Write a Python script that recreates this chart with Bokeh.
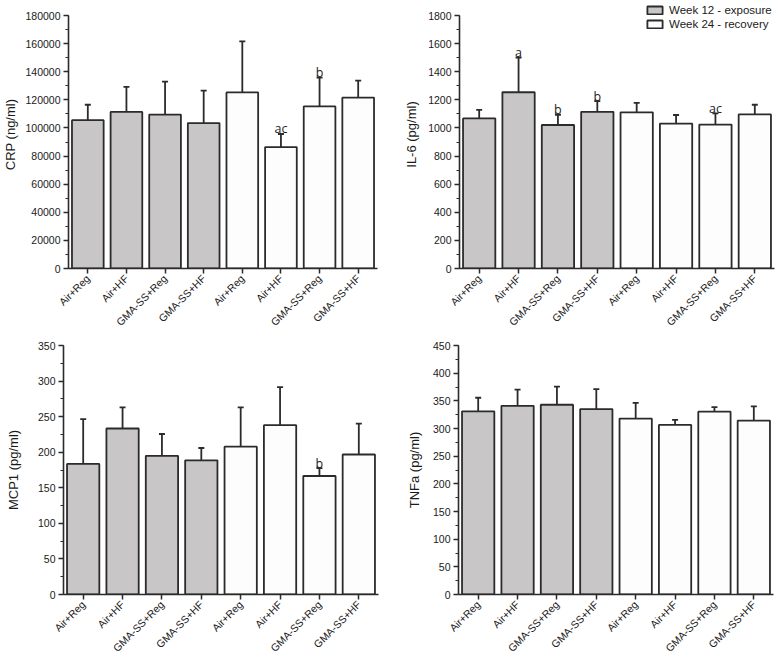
import math
from bokeh.plotting import figure
from bokeh.layouts import row, column
from bokeh.models import (ColumnDataSource, Range1d, FixedTicker, SingleIntervalTicker,
                          PrintfTickFormatter, Whisker, TeeHead, Legend, LegendItem)
from bokeh.core.properties import value
from bokeh.embed import file_html
from bokeh.resources import INLINE

# ---------------- data ----------------
groups = ["Air+Reg", "Air+HF", "GMA-SS+Reg", "GMA-SS+HF",
          "Air+Reg", "Air+HF", "GMA-SS+Reg", "GMA-SS+HF"]
periods = ["Week 12 - exposure"] * 4 + ["Week 24 - recovery"] * 4

crp_mean = [105500, 111400, 109500, 103500, 125300, 86400, 115300, 121600]
crp_sd = [11000, 17800, 23400, 23100, 36300, 9300, 20500, 12000]
crp_sig = ["", "", "", "", "", "ac", "b", ""]

il6_mean = [1068, 1254, 1021, 1115, 1111, 1031, 1024, 1096]
il6_sd = [61, 247, 73, 76, 68, 61, 80, 69]
il6_sig = ["", "a", "b", "b", "", "", "ac", ""]

mcp1_mean = [183.5, 233.3, 194.9, 188.6, 207.8, 238.0, 166.6, 196.8]
mcp1_sd = [63.0, 29.7, 30.7, 17.3, 55.2, 53.5, 11.0, 43.4]
mcp1_sig = ["", "", "", "", "", "", "b", ""]

tnf_mean = [331.0, 341.0, 342.9, 335.1, 317.9, 306.5, 330.4, 314.3]
tnf_sd = [24.6, 29.4, 32.8, 35.9, 28.5, 9.0, 8.3, 25.6]
tnf_sig = ["", "", "", "", "", "", "", ""]

# ---------------- style ----------------
FONT = "Liberation Sans"
GRAY = "#c8c6c6"
WHITE = "#fdfdfd"
INK = "#2b2b2b"

TOP_BT = 15      # gap between page top and the top tick of the top row
FRAME_H1 = 253   # height of the top-row axes (0 .. max)
BB = 68          # space below frames for rotated labels
H1 = TOP_BT + FRAME_H1 + BB
H2 = 662 - H1
BT2 = 9
TOP_SCALE = (TOP_BT + FRAME_H1) / FRAME_H1   # top-row frames reach the page top


def panel(mean, sd, sig, ymax, step, ylabel, label_standoff,
          width, height, bl, br, bt, bb, yend=None):
    xs = list(range(len(groups)))
    src = ColumnDataSource(dict(
        x=xs, mean=mean,
        upper=[m + s for m, s in zip(mean, sd)],
        color=[GRAY if p.startswith("Week 12") else WHITE for p in periods],
        sig=sig))
    p = figure(width=width, height=height,
               x_range=Range1d(-0.5, 7.5),
               y_range=Range1d(0, yend if yend is not None else ymax),
               output_backend="svg", toolbar_location=None,
               min_border_left=bl, min_border_right=br,
               min_border_top=bt, min_border_bottom=bb)
    p.outline_line_color = None
    p.xgrid.visible = False
    p.ygrid.visible = False
    p.background_fill_color = "white"

    r = p.vbar(x="x", top="mean", bottom=0, width=0.82, source=src,
               fill_color="color", line_color=INK, line_width=1.8)
    w = Whisker(base="x", upper="upper", lower="mean", source=src,
                dimension="height", line_color=INK, line_width=1.8,
                upper_head=TeeHead(size=6, line_color=INK, line_width=1.8),
                lower_head=None)
    p.add_layout(w)
    p.text(x="x", y="upper", text="sig", source=src, text_align="center",
           text_baseline="alphabetic", y_offset=-5,
           text_font=value("Open Sans"), text_font_size="12.5px",
           text_color="#222222")

    for ax in (p.xaxis[0], p.yaxis[0]):
        ax.axis_line_color = INK
        ax.axis_line_width = 1.6
        ax.major_tick_line_color = INK
        ax.major_tick_line_width = 1.5
        ax.minor_tick_line_color = INK
        ax.minor_tick_line_width = 1.2
        ax.major_tick_in = 0
        ax.major_tick_out = 5
        ax.minor_tick_in = 0
        ax.minor_tick_out = 3
        ax.major_label_text_font = FONT
        ax.major_label_text_font_size = "10.5px"
        ax.major_label_text_color = "#1a1a1a"

    xa = p.xaxis[0]
    xa.ticker = FixedTicker(ticks=xs, minor_ticks=[])
    xa.major_label_overrides = {i: g for i, g in enumerate(groups)}
    xa.major_label_orientation = math.pi / 4
    xa.major_label_standoff = 3

    ya = p.yaxis[0]
    ya.ticker = SingleIntervalTicker(interval=step, num_minor_ticks=2)
    ya.formatter = PrintfTickFormatter(format="%d")
    ya.bounds = (0, ymax)
    ya.major_label_standoff = 3
    ya.axis_label = ylabel
    ya.axis_label_text_font = FONT
    ya.axis_label_text_font_style = "normal"
    ya.axis_label_text_font_size = "13px"
    ya.axis_label_text_color = "#1a1a1a"
    ya.axis_label_standoff = label_standoff
    return p, r


p1, _ = panel(crp_mean, crp_sd, crp_sig, 180000, 20000, "CRP (ng/ml)", 4,
              393, H1, 62, 16, 0, BB, yend=180000 * TOP_SCALE)
p2, r2 = panel(il6_mean, il6_sd, il6_sig, 1800, 200, "IL-6 (pg/ml)", 6,
               385, H1, 66, 4, 0, BB, yend=1800 * TOP_SCALE)
p3, _ = panel(mcp1_mean, mcp1_sd, mcp1_sig, 350, 50, "MCP1 (pg/ml)", 14,
              393, H2, 63, 15, BT2, BB)
p4, _ = panel(tnf_mean, tnf_sd, tnf_sig, 450, 50, "TNFa (pg/ml)", 8,
              385, H2, 65, 5, BT2, BB)

legend = Legend(items=[LegendItem(label=periods[0], renderers=[r2], index=0),
                       LegendItem(label=periods[4], renderers=[r2], index=4)],
                location=(186, TOP_BT + FRAME_H1 - 30), orientation="vertical",
                glyph_width=19, glyph_height=10, label_height=10,
                spacing=2, padding=0, margin=0, label_standoff=5,
                label_text_font=FONT, label_text_font_size="11.5px",
                label_text_color="#1a1a1a",
                border_line_color=None, background_fill_alpha=0)
p2.add_layout(legend, "center")

layout = column(row(p1, p2), row(p3, p4))

with open("out.html", "w") as f:
    f.write(file_html(layout, INLINE))
